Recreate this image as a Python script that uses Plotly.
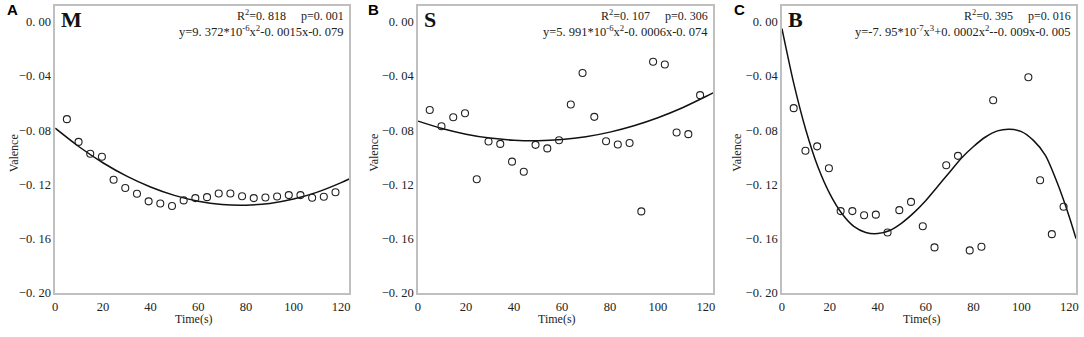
import plotly.graph_objects as go

# ---------------- data ----------------
time_all = [4.9, 9.8, 14.7, 19.6, 24.5, 29.4, 34.3, 39.2, 44.1, 49.0, 53.9, 58.8,
            63.7, 68.6, 73.5, 78.4, 83.3, 88.2, 93.1, 98.0, 102.9, 107.8, 112.7, 117.6]

m_valence = [-0.0718, -0.0886, -0.0974, -0.0996, -0.1166, -0.1226, -0.1269, -0.1325,
             -0.1341, -0.1359, -0.1318, -0.1301, -0.1294, -0.1267, -0.1267, -0.1287,
             -0.1301, -0.1296, -0.1289, -0.1279, -0.1279, -0.1298, -0.1291, -0.1258]

s_valence = [-0.0651, -0.0771, -0.0704, -0.0675, -0.1162, -0.0883, -0.0901, -0.1032,
             -0.1106, -0.0908, -0.0934, -0.0874, -0.0610, -0.0378, -0.0701, -0.0881,
             -0.0905, -0.0894, -0.1399, -0.0294, -0.0315, -0.0817, -0.0829, -0.0541]

b_time = [4.9, 9.8, 14.7, 19.6, 24.5, 29.4, 34.3, 39.2, 44.1, 49.0, 53.9, 58.8,
          63.7, 68.6, 73.5, 78.4, 83.3, 88.2, 102.9, 107.8, 112.7, 117.6]
b_valence = [-0.0637, -0.0951, -0.0919, -0.1081, -0.1397, -0.1397, -0.1428, -0.1423,
             -0.1555, -0.1390, -0.1329, -0.1509, -0.1665, -0.1059, -0.0989, -0.1687,
             -0.1660, -0.0579, -0.0409, -0.1169, -0.1567, -0.1365]

# fitted curves
m_fit_x = [0, 10, 20, 30, 40, 50, 60, 70, 80, 90, 100, 110, 120, 123.3]
m_fit_y = [-0.0785, -0.0922, -0.1040, -0.1139, -0.1219, -0.1281, -0.1324, -0.1348,
           -0.1353, -0.1340, -0.1308, -0.1257, -0.1187, -0.1160]

s_fit_x = [0, 10, 20, 30, 40, 50, 60, 70, 80, 90, 100, 110, 120, 123]
s_fit_y = [-0.0733, -0.0787, -0.0829, -0.0858, -0.0874, -0.0878, -0.0869, -0.0848,
           -0.0814, -0.0767, -0.0708, -0.0636, -0.0551, -0.0524]

b_fit_x = [0, 5, 10, 15, 20, 25, 30, 35, 40, 45, 50, 55, 60, 65, 70, 75, 80, 85, 90,
           95, 100, 105, 110, 115, 120, 122.8]
b_fit_y = [-0.005, -0.046, -0.080, -0.107, -0.127, -0.1415, -0.151, -0.1555, -0.1563,
           -0.154, -0.1485, -0.141, -0.132, -0.1215, -0.111, -0.1005, -0.092, -0.085,
           -0.0805, -0.0793, -0.081, -0.0875, -0.0985, -0.119, -0.144, -0.160]

panel_letters = ["A", "B", "C"]
group_names = ["M", "S", "B"]
stats_text = ["R<sup>2</sup>=0. 818&nbsp;&nbsp;&nbsp;&nbsp;&nbsp;p=0. 001",
              "R<sup>2</sup>=0. 107&nbsp;&nbsp;&nbsp;&nbsp;&nbsp;p=0. 306",
              "R<sup>2</sup>=0. 395&nbsp;&nbsp;&nbsp;&nbsp;&nbsp;p=0. 016"]
eq_text = ["y=9. 372*10<sup>-6</sup>x<sup>2</sup>-0. 0015x-0. 079",
           "y=5. 991*10<sup>-6</sup>x<sup>2</sup>-0. 0006x-0. 074",
           "y=-7. 95*10<sup>-7</sup>x<sup>3</sup>+0. 0002x<sup>2</sup>--0. 009x-0. 005"]

y_tickvals = [0.0, -0.04, -0.08, -0.12, -0.16, -0.20]
y_ticktext = ["0. 00", "−0. 04", "−0. 08", "−0. 12", "−0. 16", "−0. 20"]
x_tickvals = [0, 20, 40, 60, 80, 100, 120]
x_ticktext = ["0", "20", "40", "60", "80", "100", "120"]

# ---------------- layout geometry ----------------
W, H = 1084, 337
x_domains = [[52.5 / W, 348 / W], [417.3 / W, 714 / W], [783.3 / W, 1079 / W]]
x_ranges = [[0, 123.3], [0, 123.0], [0, 122.8]]
y_domain = [(H - 299) / H, (H - 6) / H]
y_range = [-0.2, 0.0118]

SERIF = "Liberation Serif, Times New Roman, serif"
SANS = "Liberation Sans, Arial, sans-serif"

fig = go.Figure()

points = [(time_all, m_valence), (time_all, s_valence), (b_time, b_valence)]
curves = [(m_fit_x, m_fit_y), (s_fit_x, s_fit_y), (b_fit_x, b_fit_y)]

for i in range(3):
    xa = "x" if i == 0 else f"x{i+1}"
    ya = "y" if i == 0 else f"y{i+1}"
    fig.add_trace(go.Scatter(
        x=curves[i][0], y=curves[i][1], mode="lines", xaxis=xa, yaxis=ya,
        line=dict(color="#111111", width=1.5, shape="spline", smoothing=0.8),
        showlegend=False, hoverinfo="skip"))
    fig.add_trace(go.Scatter(
        x=points[i][0], y=points[i][1], mode="markers", xaxis=xa, yaxis=ya,
        marker=dict(symbol="circle-open", size=7, color="#222222", line=dict(width=1.1)),
        showlegend=False))

axis_common = dict(showgrid=False, zeroline=False, showline=True, mirror=True,
                   linecolor="#bfbfbf", linewidth=1.6,
                   tickfont=dict(family=SERIF, size=12.5, color="#222222"))

layout = dict(width=W, height=H, margin=dict(l=0, r=0, t=0, b=0),
              paper_bgcolor="white", plot_bgcolor="white", showlegend=False)
for i in range(3):
    xk = "xaxis" if i == 0 else f"xaxis{i+1}"
    yk = "yaxis" if i == 0 else f"yaxis{i+1}"
    ya = "y" if i == 0 else f"y{i+1}"
    xa = "x" if i == 0 else f"x{i+1}"
    layout[xk] = dict(axis_common, domain=x_domains[i], range=x_ranges[i], anchor=ya,
                      tickvals=x_tickvals, ticktext=x_ticktext,
                      ticks="outside", ticklen=1, tickcolor="rgba(0,0,0,0)")
    layout[yk] = dict(axis_common, domain=y_domain, range=y_range, anchor=xa,
                      tickvals=y_tickvals, ticktext=y_ticktext, ticks="")
fig.update_layout(**layout)

# ---------------- text annotations ----------------
def px(xp):
    return xp / W

def py(yp):
    return 1 - yp / H

stat_right = [345, 710.7, 1076]
name_left = [56.5, 421, 787]
letter_left = [2, 365, 733]
valence_x = [10.5, 373, 738]
time_x = [192.5, 557.5, 924]

for i in range(3):
    fig.add_annotation(x=px(stat_right[i]), y=py(16), xref="paper", yref="paper",
                       text=stats_text[i], showarrow=False, xanchor="right", align="right",
                       yanchor="middle",
                       font=dict(family=SERIF, size=12, color="#222222"))
    fig.add_annotation(x=px(stat_right[i]), y=py(31.7), xref="paper", yref="paper",
                       text=eq_text[i], showarrow=False, xanchor="right", align="right",
                       yanchor="middle",
                       font=dict(family=SERIF, size=12.5, color="#222222"))
    fig.add_annotation(x=px(name_left[i]), y=py(20), xref="paper", yref="paper",
                       text=f"<b>{group_names[i]}</b>", showarrow=False,
                       xanchor="left", align="left", yanchor="middle",
                       font=dict(family=SERIF, size=22, color="#111111"))
    fig.add_annotation(x=px(letter_left[i]), y=py(10), xref="paper", yref="paper",
                       text=f"<b>{panel_letters[i]}</b>", showarrow=False,
                       xanchor="left", align="left", yanchor="middle",
                       font=dict(family=SANS, size=15, color="#000000"))
    fig.add_annotation(x=px(valence_x[i]), y=py(156), xref="paper", yref="paper",
                       text="Valence", showarrow=False, textangle=-90,
                       xanchor="center", yanchor="middle",
                       font=dict(family=SERIF, size=12, color="#222222"))
    fig.add_annotation(x=px(time_x[i]), y=py(326), xref="paper", yref="paper",
                       text="Time(s)", showarrow=False, xanchor="center", yanchor="middle",
                       font=dict(family=SERIF, size=12, color="#222222"))

page_fix = ("document.documentElement.style.margin='0';"
            "document.documentElement.style.overflow='hidden';"
            "document.body.style.margin='0';"
            "document.body.style.overflow='hidden';"
            "document.body.style.height='337px';")
fig.write_html("out.html", config={"displayModeBar": False}, post_script=page_fix)
